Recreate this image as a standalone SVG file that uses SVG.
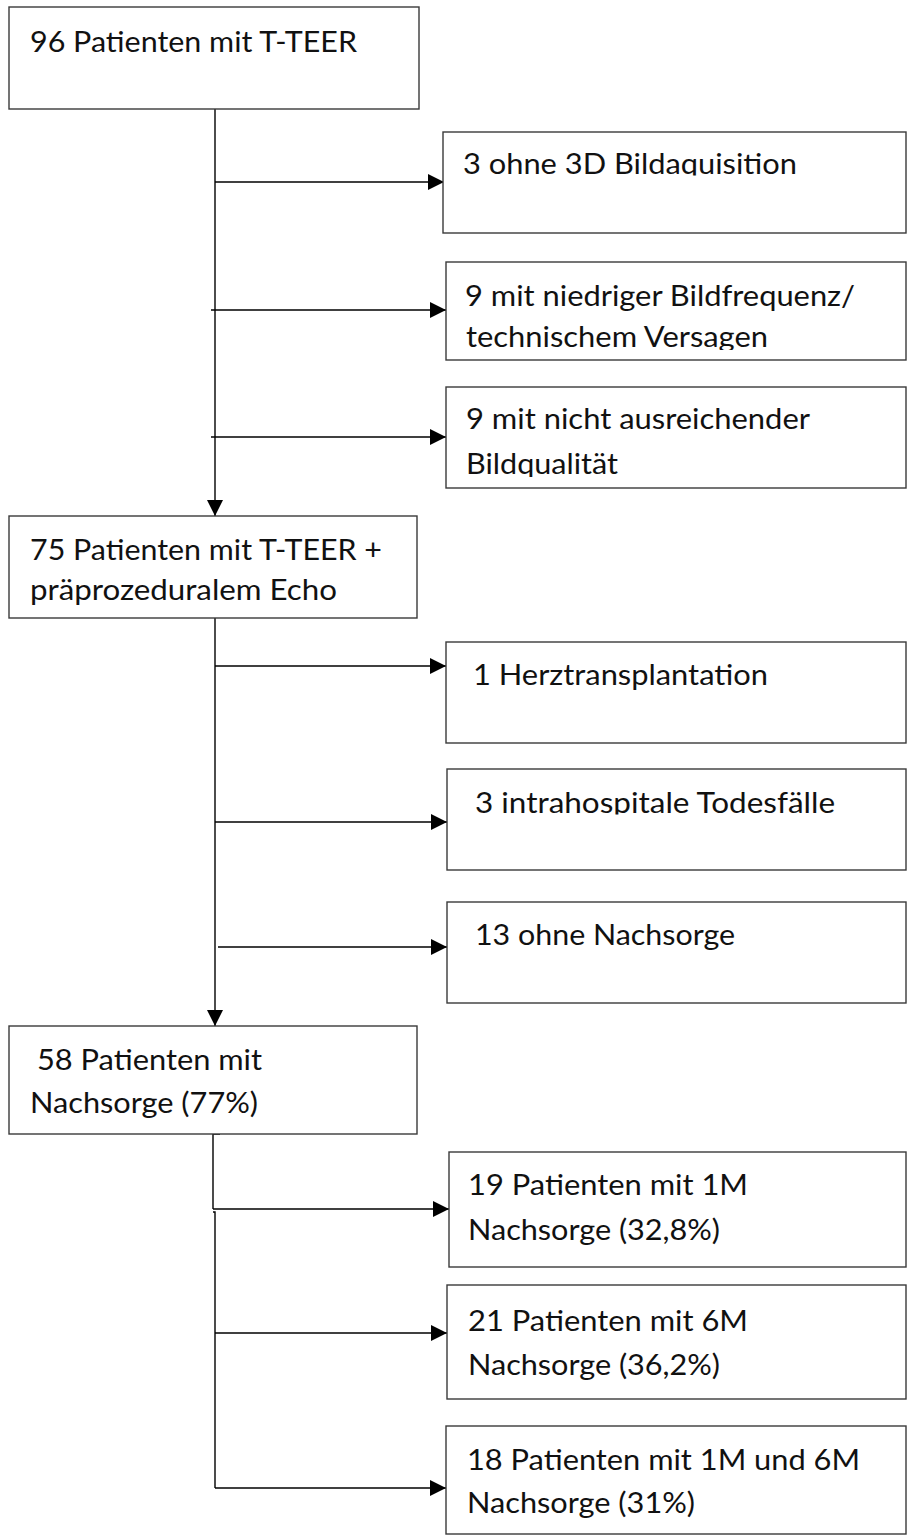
<svg xmlns="http://www.w3.org/2000/svg" width="908" height="1536" viewBox="0 0 908 1536">
<style>
.box{fill:#fff;stroke:#3a3a3a;stroke-width:1.4}
.t{font-family:Lato,"Liberation Sans",sans-serif;font-size:29px;fill:#111}
.c{stroke:#000;stroke-width:1.4;fill:none}
</style>
<defs>
<marker id="ah" markerUnits="userSpaceOnUse" markerWidth="17" markerHeight="17" refX="16" refY="8" orient="auto">
<path d="M0,0 L16,8 L0,16 z" fill="#000"/>
</marker>
<clipPath id="cl1"><rect x="440" y="130" width="470" height="45.5"/></clipPath>
<clipPath id="cl2"><rect x="440" y="260" width="470" height="90"/></clipPath>
<clipPath id="cl3"><rect x="440" y="385" width="470" height="92"/></clipPath>
<clipPath id="cl4"><rect x="440" y="765" width="470" height="49.5"/></clipPath>
</defs>

<g id="connectors">
<line class="c" x1="215" y1="109" x2="215" y2="516" marker-end="url(#ah)"/>
<line class="c" x1="215" y1="182" x2="444" y2="182" marker-end="url(#ah)"/>
<line class="c" x1="211" y1="310" x2="446" y2="310" marker-end="url(#ah)"/>
<line class="c" x1="211" y1="437" x2="446" y2="437" marker-end="url(#ah)"/>
<line class="c" x1="215" y1="618" x2="215" y2="1026" marker-end="url(#ah)"/>
<line class="c" x1="215" y1="666" x2="446" y2="666" marker-end="url(#ah)"/>
<line class="c" x1="215" y1="822" x2="447" y2="822" marker-end="url(#ah)"/>
<line class="c" x1="218" y1="947" x2="447" y2="947" marker-end="url(#ah)"/>
<path class="c" d="M220,1134 L213,1134 L213,1209"/>
<line class="c" x1="213" y1="1209" x2="449" y2="1209" marker-end="url(#ah)"/>
<path class="c" d="M213,1212 L215,1212 L215,1488"/>
<line class="c" x1="215" y1="1333" x2="447" y2="1333" marker-end="url(#ah)"/>
<line class="c" x1="215" y1="1488" x2="446" y2="1488" marker-end="url(#ah)"/>
</g>

<g id="n1">
<rect class="box" x="9" y="7" width="410" height="102"/>
<text class="t" x="30" y="52" textLength="327" lengthAdjust="spacingAndGlyphs">96 Patienten mit T-TEER</text>
</g>
<g id="n2">
<rect class="box" x="443" y="132" width="463" height="101"/>
<text class="t" x="463" y="174" textLength="334" lengthAdjust="spacingAndGlyphs" clip-path="url(#cl1)">3 ohne 3D Bildaquisition</text>
</g>
<g id="n3">
<rect class="box" x="446" y="262" width="460" height="98"/>
<text class="t" x="465" y="306" textLength="390" lengthAdjust="spacingAndGlyphs">9 mit niedriger  Bildfrequenz/</text>
<text class="t" x="466" y="347" textLength="302" lengthAdjust="spacingAndGlyphs" clip-path="url(#cl2)">technischem  Versagen</text>
</g>
<g id="n4">
<rect class="box" x="446" y="387" width="460" height="101"/>
<text class="t" x="466" y="429" textLength="344" lengthAdjust="spacingAndGlyphs">9 mit nicht  ausreichender</text>
<text class="t" x="466" y="474" textLength="152" lengthAdjust="spacingAndGlyphs" clip-path="url(#cl3)">Bildqualität</text>
</g>
<g id="n5">
<rect class="box" x="9" y="516" width="408" height="102"/>
<text class="t" x="30" y="560" textLength="352" lengthAdjust="spacingAndGlyphs">75 Patienten mit T-TEER +</text>
<text class="t" x="30" y="600" textLength="307" lengthAdjust="spacingAndGlyphs">präprozeduralem  Echo</text>
</g>
<g id="n6">
<rect class="box" x="446" y="642" width="460" height="101"/>
<text class="t" x="473" y="685" textLength="295" lengthAdjust="spacingAndGlyphs">1 Herztransplantation</text>
</g>
<g id="n7">
<rect class="box" x="447" y="769" width="459" height="101"/>
<text class="t" x="475" y="813" textLength="360" lengthAdjust="spacingAndGlyphs" clip-path="url(#cl4)">3 intrahospitale Todesfälle</text>
</g>
<g id="n8">
<rect class="box" x="447" y="902" width="459" height="101"/>
<text class="t" x="475" y="945" textLength="260" lengthAdjust="spacingAndGlyphs">13 ohne  Nachsorge</text>
</g>
<g id="n9">
<rect class="box" x="9" y="1026" width="408" height="108"/>
<text class="t" x="37" y="1070" textLength="225" lengthAdjust="spacingAndGlyphs">58 Patienten mit</text>
<text class="t" x="30" y="1113" textLength="228" lengthAdjust="spacingAndGlyphs">Nachsorge  (77%)</text>
</g>
<g id="n10">
<rect class="box" x="449" y="1152" width="457" height="115"/>
<text class="t" x="468" y="1195" textLength="280" lengthAdjust="spacingAndGlyphs">19 Patienten mit 1M</text>
<text class="t" x="468" y="1240" textLength="252" lengthAdjust="spacingAndGlyphs">Nachsorge  (32,8%)</text>
</g>
<g id="n11">
<rect class="box" x="447" y="1285" width="459" height="114"/>
<text class="t" x="468" y="1331" textLength="280" lengthAdjust="spacingAndGlyphs">21 Patienten mit 6M</text>
<text class="t" x="468" y="1375" textLength="252" lengthAdjust="spacingAndGlyphs">Nachsorge  (36,2%)</text>
</g>
<g id="n12">
<rect class="box" x="446" y="1426" width="460" height="108"/>
<text class="t" x="467" y="1470" textLength="393" lengthAdjust="spacingAndGlyphs">18 Patienten mit 1M und 6M</text>
<text class="t" x="467" y="1513" textLength="228" lengthAdjust="spacingAndGlyphs">Nachsorge  (31%)</text>
</g>
</svg>
